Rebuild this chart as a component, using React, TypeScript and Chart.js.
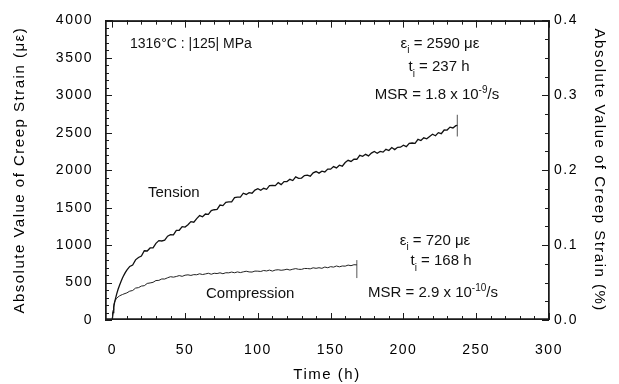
import React, { useEffect, useRef, useState } from "react";
import { Chart, registerables } from "chart.js";

Chart.register(...registerables);

const FONT = '"Liberation Sans", Arial, Helvetica, sans-serif';

// ---- data (hours, microstrain) ----
const tensionTime = [
  0, 0.5, 1, 1.5, 2, 3, 4, 5, 6, 7, 8, 9, 10, 12, 14, 16, 18, 20, 22, 24, 26, 28, 30,
  32, 34, 36, 38, 40, 42, 44, 46, 48, 50, 52, 54, 56, 58, 60, 62, 64, 66, 68, 70,
  72, 74, 76, 78, 80, 82, 84, 86, 88, 90, 92, 94, 96, 98, 100, 102, 104, 106, 108, 110,
  112, 114, 116, 118, 120, 122, 124, 126, 128, 130, 132, 134, 136, 138, 140, 142, 144, 146, 148, 150,
  152, 154, 156, 158, 160, 162, 164, 166, 168, 170, 172, 174, 176, 178, 180, 182, 184, 186, 188, 190,
  192, 194, 196, 198, 200, 202, 204, 206, 208, 210, 212, 214, 216, 218, 220, 222, 224, 226, 228, 230,
  232, 234, 236, 237,
];
const tensionStrain = [
  0, 100, 170, 225, 270, 345, 410, 465, 515, 560, 600, 635, 665, 715, 733, 803, 834, 855, 924, 921, 962, 963, 1024,
  1060, 1055, 1067, 1119, 1138, 1136, 1197, 1198, 1247, 1240, 1271, 1313, 1305, 1354, 1394, 1378, 1415, 1411, 1461, 1472,
  1478, 1535, 1527, 1571, 1576, 1577, 1633, 1641, 1641, 1693, 1676, 1700, 1693, 1734, 1754, 1733, 1758, 1745, 1794, 1796,
  1794, 1834, 1808, 1848, 1848, 1878, 1862, 1911, 1892, 1895, 1929, 1933, 1920, 1964, 1982, 1961, 1987, 1976, 2015, 2014,
  2048, 2031, 2067, 2053, 2103, 2132, 2117, 2146, 2146, 2199, 2185, 2212, 2191, 2228, 2251, 2227, 2250, 2241, 2279, 2263,
  2303, 2275, 2306, 2307, 2334, 2314, 2358, 2363, 2358, 2412, 2396, 2433, 2420, 2451, 2480, 2460, 2501, 2487, 2537, 2536,
  2575, 2564, 2594, 2600,
];
const compressionTime = [
  0, 0.5, 1, 1.5, 2, 3, 4, 5, 6, 7, 8, 10, 12, 14, 16, 18, 20, 22, 24, 26, 28, 30,
  32, 34, 36, 38, 40, 42, 44, 46, 48, 50, 52, 54, 56, 58, 60, 62, 64, 66, 68, 70,
  72, 74, 76, 78, 80, 82, 84, 86, 88, 90, 92, 94, 96, 98, 100, 102, 104, 106, 108, 110,
  112, 114, 116, 118, 120, 122, 124, 126, 128, 130, 132, 134, 136, 138, 140, 142, 144, 146, 148, 150,
  152, 154, 156, 158, 160, 162, 164, 166, 168,
];
const compressionStrain = [
  0, 130, 195, 235, 260, 290, 308, 322, 332, 340, 348, 362, 385, 394, 426, 432, 453, 458, 488, 495, 503, 527,
  529, 548, 547, 564, 578, 572, 581, 593, 583, 598, 603, 595, 606, 604, 617, 607, 615, 624, 611, 624,
  620, 630, 618, 631, 630, 640, 631, 642, 633, 643, 651, 642, 640, 653, 652, 648, 661, 655, 666, 653,
  667, 671, 664, 669, 678, 667, 678, 686, 677, 676, 688, 687, 683, 697, 690, 698, 690, 707, 698, 712,
  706, 721, 710, 721, 719, 733, 725, 738, 736,
];
// end-of-test markers (time, strain low, strain high)
const tensionMarker = [237, 2450, 2740];
const compressionMarker = [168, 560, 800];

const xTicks = [0, 50, 100, 150, 200, 250, 300];
const yTicks = [0, 500, 1000, 1500, 2000, 2500, 3000, 3500, 4000];
const pctTicks = [0, 0.1, 0.2, 0.3, 0.4];

const X_MINOR = 10;
const Y_MINOR = 100;
const PCT_MINOR = 0.025;
const FRAME = "#1a1a1a";

type Mark = { x: number; y: number; w: number; h: number };

// frame + inward tick marks, positioned through the chart's own scales
function computeMarks(chart: any): Mark[] {
  const ca = chart.chartArea;
  const left = ca.left, right = ca.right, top = ca.top, bottom = ca.bottom;
  const xs = chart.scales.x;
  const ys = chart.scales.y;
  const y2 = chart.scales.y2;
  const m: Mark[] = [];
  m.push({ x: left, y: top, w: right - left, h: 1.5 });
  m.push({ x: left, y: bottom - 1.5, w: right - left, h: 1.5 });
  m.push({ x: left, y: top, w: 1.5, h: bottom - top });
  m.push({ x: right - 1, y: top, w: 1.5, h: bottom - top });
  for (let v = xTicks[0]; v <= xTicks[xTicks.length - 1] + 1e-6; v += X_MINOR) {
    const major = Math.abs(v % 50) < 1e-6;
    const len = major ? 7 : 4;
    const px = Math.round(xs.getPixelForValue(v));
    m.push({ x: px, y: bottom - len, w: 1, h: len });
    m.push({ x: px, y: top, w: 1, h: len });
  }
  for (let v = yTicks[0]; v <= yTicks[yTicks.length - 1] + 1e-6; v += Y_MINOR) {
    const major = Math.abs(v % 500) < 1e-6;
    const len = major ? 7 : 4;
    const py = Math.round(ys.getPixelForValue(v));
    m.push({ x: left, y: py, w: len, h: 1 });
  }
  for (let i = 0; i * PCT_MINOR <= pctTicks[pctTicks.length - 1] + 1e-9; i++) {
    const v = i * PCT_MINOR;
    const major = i % 4 === 0;
    const len = major ? 7 : 4;
    const py = Math.round(y2.getPixelForValue(v));
    m.push({ x: right - len, y: py, w: len, h: 1 });
  }
  return m;
}

function drawRuns(ctx: CanvasRenderingContext2D, cx: number, baseline: number, runs: [string, number, number][]) {
  let total = 0;
  const widths: number[] = [];
  for (const [t, s] of runs) {
    ctx.font = `${s}px ${FONT}`;
    const w = ctx.measureText(t).width;
    widths.push(w);
    total += w;
  }
  let x = cx - total / 2;
  runs.forEach(([t, s, dy], i) => {
    ctx.font = `${s}px ${FONT}`;
    ctx.fillText(t, x, baseline + dy);
    x += widths[i];
  });
}

const decorPlugin = {
  id: "decor",
  beforeDraw(chart: any) {
    (chart.ctx as any).letterSpacing = "1.5px";
  },
  beforeDatasetsDraw(chart: any) {
    (chart.ctx as any).letterSpacing = "0px";
  },
  afterDraw(chart: any) {
    const ctx: CanvasRenderingContext2D = chart.ctx;
    (ctx as any).letterSpacing = "0px";
    ctx.save();
    ctx.fillStyle = FRAME;
    for (const r of computeMarks(chart)) ctx.fillRect(r.x, r.y, r.w, r.h);

    ctx.fillStyle = "#111";
    ctx.textAlign = "left";
    ctx.textBaseline = "alphabetic";
    ctx.font = `14px ${FONT}`;
    ctx.fillText("1316°C : |125| MPa", 130, 48);

    ctx.font = `15px ${FONT}`;
    ctx.fillText("Tension", 148, 197);
    ctx.fillText("Compression", 206, 298);

    drawRuns(ctx, 440, 48, [["ε", 15, 0], ["i", 10, 5], [" = 2590 με", 15, 0]]);
    drawRuns(ctx, 439, 71, [["t", 15, 0], ["i", 10, 6], [" = 237 h", 15, 0]]);
    drawRuns(ctx, 437, 99, [["MSR = 1.8 x 10", 15, 0], ["-9", 10, -6], ["/s", 15, 0]]);

    drawRuns(ctx, 435, 245, [["ε", 15, 0], ["i", 10, 5], [" = 720 με", 15, 0]]);
    drawRuns(ctx, 441, 265, [["t", 15, 0], ["i", 10, 6], [" = 168 h", 15, 0]]);
    drawRuns(ctx, 433, 297, [["MSR = 2.9 x 10", 15, 0], ["-10", 10, -6], ["/s", 15, 0]]);
    ctx.restore();
  },
};

export default function App() {
  const ref = useRef<HTMLCanvasElement | null>(null);
  const [marks, setMarks] = useState<Mark[]>([]);
  useEffect(() => {
    if (!ref.current) return;
    const tension = tensionTime.map((t, i) => ({ x: t, y: tensionStrain[i] }));
    const compression = compressionTime.map((t, i) => ({ x: t, y: compressionStrain[i] }));
    const tMark = [
      { x: tensionMarker[0], y: tensionMarker[1] },
      { x: tensionMarker[0], y: tensionMarker[2] },
    ];
    const cMark = [
      { x: compressionMarker[0], y: compressionMarker[1] },
      { x: compressionMarker[0], y: compressionMarker[2] },
    ];
    const tickFont = { family: FONT, size: 14 };
    const titleFont = { family: FONT, size: 15, lineHeight: 1 };
    const chart = new Chart(ref.current, {
      type: "line",
      data: {
        datasets: [
          { label: "Tension", data: tension, borderColor: "#111", borderWidth: 1.3, pointRadius: 0, tension: 0, yAxisID: "y" },
          { label: "Compression", data: compression, borderColor: "#222", borderWidth: 1, pointRadius: 0, tension: 0, yAxisID: "y" },
          { label: "t-end", data: tMark, borderColor: "#555", borderWidth: 1, pointRadius: 0, yAxisID: "y" },
          { label: "c-end", data: cMark, borderColor: "#555", borderWidth: 1, pointRadius: 0, yAxisID: "y" },
        ],
      },
      options: {
        animation: false,
        responsive: false,
        devicePixelRatio: 1,
        layout: { padding: { top: 13, left: 0, right: 0, bottom: 0 } },
        plugins: { legend: { display: false }, tooltip: { enabled: false } },
        scales: {
          x: {
            type: "linear", min: -5, max: 300,
            grid: { display: false, drawTicks: false },
            border: { display: false },
            ticks: { font: tickFont, color: "#000", padding: 22, maxRotation: 0, autoSkip: false, callback: (v: any) => String(v) },
            afterBuildTicks: (s: any) => { s.ticks = xTicks.map((v) => ({ value: v })); },
            afterFit: (s: any) => { s.height = 64; },
            title: { display: true, text: "Time (h)", color: "#000", font: titleFont, padding: { top: 0, bottom: 2 } },
          },
          y: {
            type: "linear", position: "left", min: 0, max: 4000,
            grid: { display: false, drawTicks: false },
            border: { display: false },
            ticks: { font: tickFont, color: "#000", padding: 12, callback: (v: any) => String(v) },
            afterBuildTicks: (s: any) => { s.ticks = yTicks.map((v) => ({ value: v })); },
            afterFit: (s: any) => { s.width = 105; },
            title: { display: true, text: "Absolute Value of Creep Strain (με)", color: "#000", font: titleFont, padding: { top: 12.5, bottom: 0 } },
          },
          y2: {
            type: "linear", position: "right", min: 0, max: 0.4,
            grid: { display: false, drawTicks: false },
            border: { display: false },
            ticks: { font: tickFont, color: "#000", padding: 5, callback: (v: any) => Number(v).toFixed(1) },
            afterBuildTicks: (s: any) => { s.ticks = pctTicks.map((v) => ({ value: v })); },
            afterFit: (s: any) => { s.width = 70; },
            title: { display: true, text: "Absolute Value of Creep Strain (%)", color: "#000", font: titleFont, padding: { top: 12.5, bottom: 0 } },
          },
        },
      },
      plugins: [decorPlugin],
    } as any);
    setMarks(computeMarks(chart));
    return () => chart.destroy();
  }, []);
  return (
    <div style={{ position: "fixed", left: 0, top: 0, width: 619, height: 384, background: "#fff" }}>
      <canvas ref={ref} width={619} height={384} style={{ width: 619, height: 384, display: "block" }} />
      <svg
        width={619}
        height={384}
        style={{ position: "absolute", left: 0, top: 0, pointerEvents: "none" }}
      >
        {marks.map((r, i) => (
          <rect key={i} x={r.x} y={r.y} width={r.w} height={r.h} fill={FRAME} />
        ))}
      </svg>
    </div>
  );
}
